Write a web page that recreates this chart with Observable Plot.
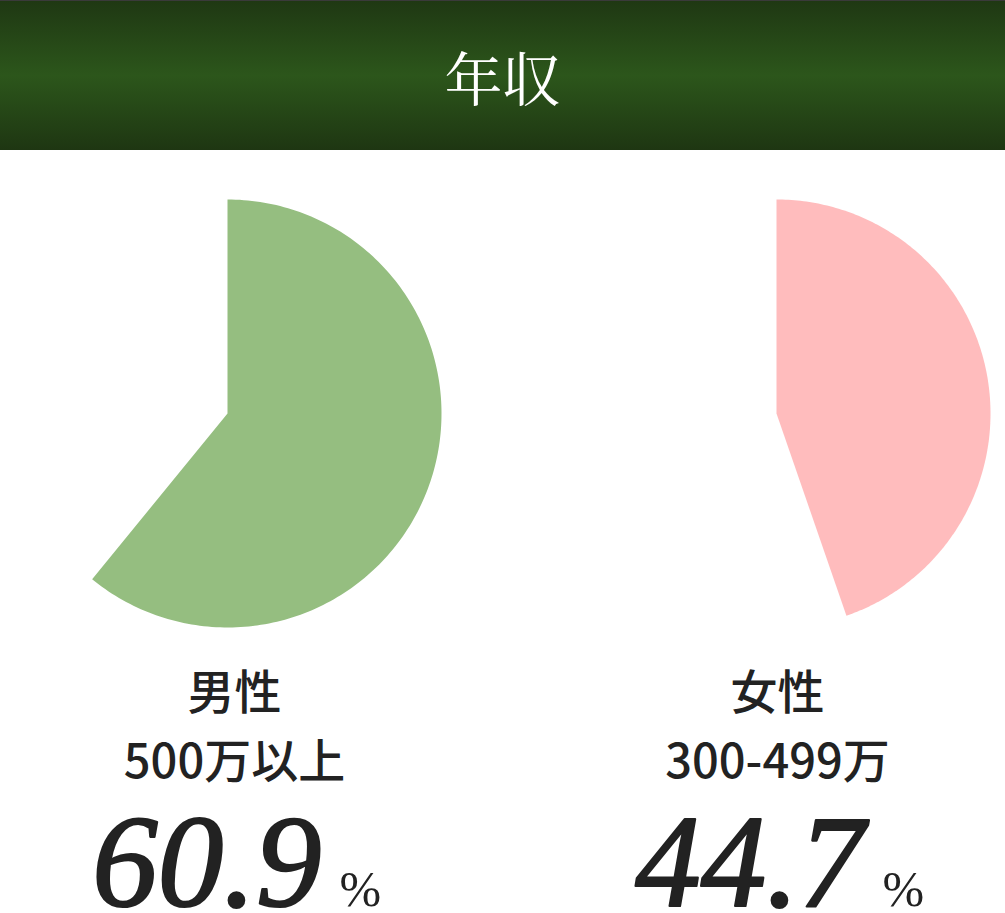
<!DOCTYPE html>
<html><head><meta charset="utf-8">
<script src="https://cdn.jsdelivr.net/npm/d3@7"></script>
<script src="https://cdn.jsdelivr.net/npm/@observablehq/plot@0.6"></script>
<style>
html,body{margin:0;padding:0;background:#fff;overflow:hidden;}
#header{width:1005px;height:150px;background:linear-gradient(to bottom,#1f3813 0%,#2c561b 50%,#1e3612 100%);border-top:1px solid #3a3a3a;box-sizing:border-box;display:flex;align-items:center;justify-content:center;}
#header h1{margin:0;color:#fff;font-family:"Noto Serif CJK JP","Noto Sans CJK JP",serif;font-weight:400;font-size:58px;letter-spacing:0;line-height:1;}
</style>
</head><body>
<div id="header"><h1 id="title"></h1></div>
<div id="chart"></div>
<script>
const title = "年収";
const groups = ["男性", "女性"];
const categories = ["500万以上", "300-499万"];
const values = [60.9, 44.7];
const colors = ["#95be80", "#ffbcbd"];

document.getElementById("title").textContent = title;

const W = 1005, H = 763;
const pieCx = [227, 776], pieCy = 263, R = 214;
const labelCx = [234, 777];

// build wedge outlines from the values (clockwise from 12 o'clock)
const wedge = [];
values.forEach((v, i) => {
  const end = v / 100 * 2 * Math.PI;
  const n = 200;
  wedge.push({g: groups[i], x: pieCx[i], y: pieCy});
  for (let k = 0; k <= n; k++) {
    const a = end * k / n;
    wedge.push({g: groups[i], x: pieCx[i] + R * Math.sin(a), y: pieCy - R * Math.cos(a)});
  }
  wedge.push({g: groups[i], x: pieCx[i], y: pieCy});
});

const labels = groups.map((g, i) => ({g, cat: categories[i], v: values[i], cx: labelCx[i]}));

const plot = Plot.plot({
  width: W, height: H,
  margin: 0,
  x: {domain: [0, W], range: [0, W], axis: null},
  y: {domain: [0, H], range: [0, H], axis: null},
  color: {domain: groups, range: colors},
  marks: [
    Plot.line(wedge, {x: "x", y: "y", z: "g", fill: "g", stroke: "none", curve: "linear"}),
    Plot.text(labels, {x: "cx", y: () => 543, text: "g", fontSize: 47, fontWeight: 500, fill: "#222", fontFamily: "'Noto Sans CJK JP', sans-serif"}),
    Plot.text(labels, {x: "cx", y: () => 612, text: "cat", fontSize: 47, fontWeight: 500, fill: "#222", fontFamily: "'Noto Sans CJK JP', sans-serif"}),
    Plot.text(labels, {x: d => d.cx + 87, y: () => 755, text: d => d.v.toFixed(1), textAnchor: "end", lineAnchor: "bottom", fontSize: 131, fontStyle: "italic", fill: "#222", stroke: "#222", strokeWidth: 2.2, fontFamily: "'Liberation Serif', serif"}),
    Plot.text(labels, {x: d => d.cx + 105, y: () => 755, text: () => "%", textAnchor: "start", lineAnchor: "bottom", fontSize: 50, fontWeight: 300, fill: "#222", fontFamily: "'Liberation Serif', serif"})
  ]
});
document.getElementById("chart").appendChild(plot);
</script>
</body></html>
